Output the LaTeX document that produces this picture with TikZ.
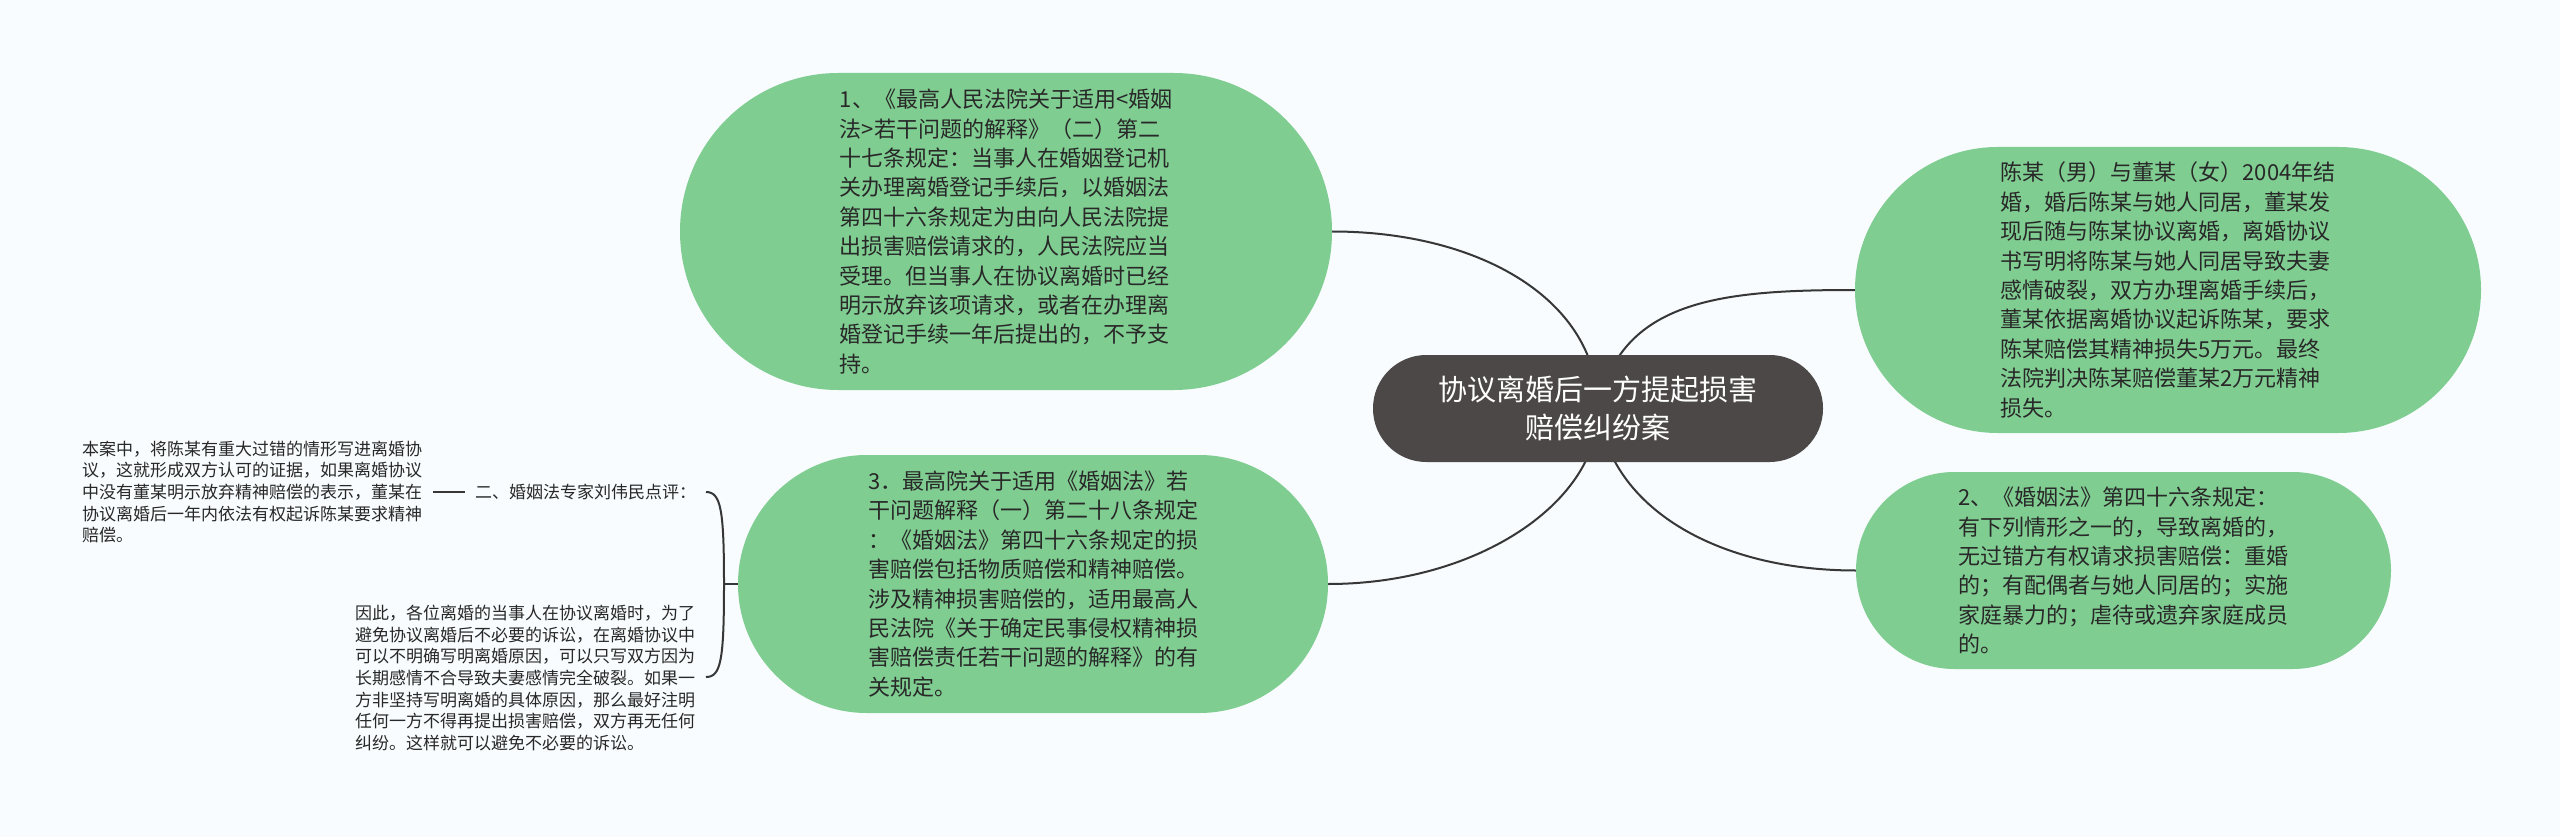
\documentclass[tikz,border=0pt]{standalone}
\usepackage{fontspec}
\newfontfamily\cjk{Noto Sans CJK SC}
\pgfdeclarelayer{bg}
\pgfdeclarelayer{lines}
\pgfsetlayers{bg,lines,main}
\definecolor{nodegreen}{RGB}{128,205,146}
\definecolor{centergray}{RGB}{77,72,72}
\definecolor{linegray}{RGB}{55,55,55}
\definecolor{txt}{RGB}{40,40,40}
\definecolor{bgc}{RGB}{248,252,254}
\tikzset{
  leaf/.style={fill=nodegreen, text=txt, align=left, inner sep=0pt,
    font=\cjk\fontsize{22pt}{29.4pt}\selectfont},
  hub/.style={fill=centergray, text=white, align=center, inner sep=0pt,
    font=\cjk\fontsize{29pt}{38pt}\selectfont,
    minimum width=450pt, minimum height=107pt, rounded corners=53.3pt},
  note/.style={text=txt, align=left, inner sep=0pt,
    font=\cjk\fontsize{17pt}{21.7pt}\selectfont},
  conn/.style={draw=linegray, line width=2pt},
}
\begin{document}
\begin{tikzpicture}[x=1pt,y=-1pt]
\begin{pgfonlayer}{bg}
\fill[bgc] (0,0) rectangle (2560,837);
\end{pgfonlayer}
\useasboundingbox (0,0) rectangle (2560,837);

% central node
\node[hub] (c) at (1598,408.5) {协议离婚后一方提起损害\\赔偿纠纷案};

% node 1
\node[leaf, minimum width=652pt, minimum height=317pt, rounded corners=158.3pt] (n1) at (1006,231.5)
{1、《最高人民法院关于适用<婚姻\\法>若干问题的解释》（二）第二\\十七条规定：当事人在婚姻登记机\\关办理离婚登记手续后，以婚姻法\\第四十六条规定为由向人民法院提\\出损害赔偿请求的，人民法院应当\\受理。但当事人在协议离婚时已经\\明示放弃该项请求，或者在办理离\\婚登记手续一年后提出的，不予支\\持。};

% node 3
\node[leaf, minimum width=590pt, minimum height=258pt, rounded corners=128.8pt] (n3) at (1033,584)
{3．最高院关于适用《婚姻法》若\\干问题解释（一）第二十八条规定\\：《婚姻法》第四十六条规定的损\\害赔偿包括物质赔偿和精神赔偿。\\涉及精神损害赔偿的，适用最高人\\民法院《关于确定民事侵权精神损\\害赔偿责任若干问题的解释》的有\\关规定。};

% case node
\node[leaf, minimum width=626pt, minimum height=286pt, rounded corners=142.8pt] (nc) at (2168,290)
{陈某（男）与董某（女）2004年结\\婚，婚后陈某与她人同居，董某发\\现后随与陈某协议离婚，离婚协议\\书写明将陈某与她人同居导致夫妻\\感情破裂，双方办理离婚手续后，\\董某依据离婚协议起诉陈某，要求\\陈某赔偿其精神损失5万元。最终\\法院判决陈某赔偿董某2万元精神\\损失。};

% node 2
\node[leaf, minimum width=535pt, minimum height=197pt, rounded corners=98.3pt] (n2) at (2123.5,570.5)
{2、《婚姻法》第四十六条规定：\\有下列情形之一的，导致离婚的，\\无过错方有权请求损害赔偿：重婚\\的；有配偶者与她人同居的；实施\\家庭暴力的；虐待或遗弃家庭成员\\的。};

% left side texts
\node[note, anchor=west] (lab) at (475,492) {二、婚姻法专家刘伟民点评：};
\node[note, anchor=west] (c1) at (82,492)
{本案中，将陈某有重大过错的情形写进离婚协\\议，这就形成双方认可的证据，如果离婚协议\\中没有董某明示放弃精神赔偿的表示，董某在\\协议离婚后一年内依法有权起诉陈某要求精神\\赔偿。};
\node[note, anchor=west] (c2) at (355,678)
{因此，各位离婚的当事人在协议离婚时，为了\\避免协议离婚后不必要的诉讼，在离婚协议中\\可以不明确写明离婚原因，可以只写双方因为\\长期感情不合导致夫妻感情完全破裂。如果一\\方非坚持写明离婚的具体原因，那么最好注明\\任何一方不得再提出损害赔偿，双方再无任何\\纠纷。这样就可以避免不必要的诉讼。};

\coordinate (j) at (724,584);
\coordinate (bt) at (706,492);
\coordinate (bb) at (706,677);

\begin{pgfonlayer}{lines}
\draw[conn] (c.center) .. controls (1598,300) and (1480,231.5) .. (n1.east);
\draw[conn] (c.center) .. controls (1620,300) and (1720,290) .. (nc.west);
\draw[conn] (c.center) .. controls (1600,500) and (1480,584) .. (n3.east);
\draw[conn] (c.center) .. controls (1610,510) and (1720,570.5) .. (n2.west);
\draw[conn] (n3.west) -- (j);
\draw[conn] (j) .. controls (724,510) and (721,492) .. (bt);
\draw[conn] (j) .. controls (724,660) and (721,677) .. (bb);
\draw[conn, line width=2.5pt] ([xshift=11pt]c1.east) -- ([xshift=-10pt]lab.west);
\end{pgfonlayer}
\end{tikzpicture}
\end{document}
